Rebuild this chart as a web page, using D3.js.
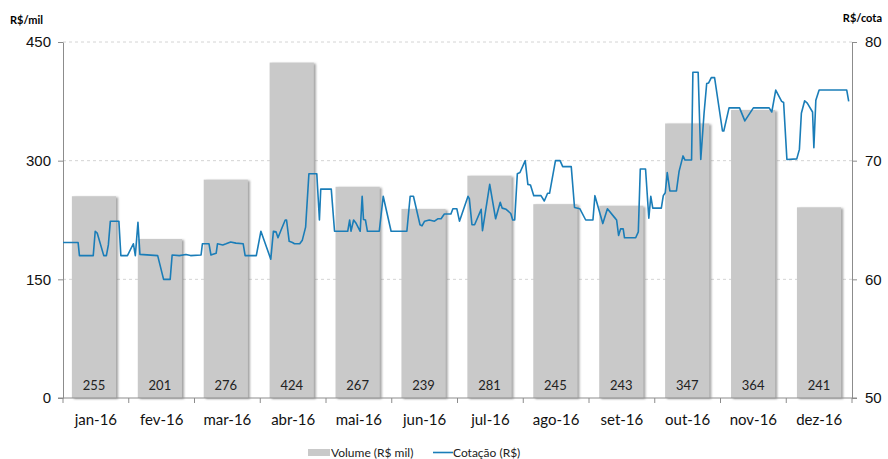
<!DOCTYPE html>
<html>
<head>
<meta charset="utf-8">
<script src="https://cdn.jsdelivr.net/npm/d3@7"></script>
<style>
  body { margin: 0; background: #fff; }
  svg { display: block; font-family: Lato, "Open Sans", sans-serif; }
  .grid line { stroke: #d4d4d4; stroke-dasharray: 3 3; }
  .axis path, .axis line { stroke: #8c8c8c; }
  .axis text { fill: #111; }
</style>
</head>
<body>
<svg id="chart" width="888" height="459"></svg>
<script>
// Months and monthly volume (R$ mil)
var meses = ['jan-16', 'fev-16', 'mar-16', 'abr-16', 'mai-16', 'jun-16',
  'jul-16', 'ago-16', 'set-16', 'out-16', 'nov-16', 'dez-16'];
var volume = [255, 201, 276, 424, 267, 239, 281, 245, 243, 347, 364, 241];

// Daily quote (R$/cota): position in months since jan-16 start, value
var posMes = [0.00, 0.23, 0.25, 0.46, 0.49, 0.52, 0.62, 0.66, 0.69, 0.72, 0.85, 0.88, 0.98,
  1.07, 1.10, 1.14, 1.17, 1.44, 1.53, 1.63, 1.66, 1.77, 1.87, 1.94, 2.10, 2.12, 2.22,
  2.25, 2.27, 2.33, 2.35, 2.43, 2.48, 2.55, 2.63, 2.74, 2.77, 2.94, 3.01, 3.16, 3.20,
  3.24, 3.27, 3.32, 3.38, 3.40, 3.44, 3.49, 3.52, 3.60, 3.64, 3.69, 3.74, 3.86, 3.90,
  3.92, 4.08, 4.13, 4.33, 4.36, 4.38, 4.42, 4.46, 4.52, 4.55, 4.57, 4.60, 4.63, 4.81,
  4.87, 4.99, 5.23, 5.28, 5.33, 5.43, 5.46, 5.50, 5.57, 5.65, 5.70, 5.75, 5.80, 5.90,
  5.93, 5.99, 6.03, 6.16, 6.18, 6.22, 6.26, 6.36, 6.38, 6.49, 6.58, 6.65, 6.68, 6.74,
  6.81, 6.84, 6.87, 6.91, 6.95, 7.03, 7.07, 7.11, 7.16, 7.27, 7.32, 7.37, 7.40, 7.49,
  7.56, 7.60, 7.73, 7.78, 7.86, 7.95, 8.06, 8.09, 8.21, 8.28, 8.39, 8.42, 8.45, 8.48,
  8.52, 8.54, 8.71, 8.75, 8.78, 8.86, 8.91, 8.94, 8.97, 9.10, 9.13, 9.16, 9.19, 9.23,
  9.33, 9.37, 9.43, 9.46, 9.56, 9.58, 9.66, 9.70, 9.75, 9.79, 9.82, 9.86, 9.91, 10.03,
  10.05, 10.13, 10.29, 10.37, 10.50, 10.74, 10.78, 10.84, 10.93, 10.96, 11.01, 11.16,
  11.20, 11.23, 11.28, 11.32, 11.40, 11.42, 11.45, 11.50, 11.92, 11.95];
var cotacao = [63.1, 63.1, 62.0, 62.0, 64.05, 63.9, 62.0, 62.0, 62.9, 64.9, 64.9, 62.0, 62.0,
  63.0, 62.0, 64.8, 62.1, 62.0, 60.0, 60.0, 62.05, 62.0, 62.1, 62.0, 62.05, 63.0, 63.0,
  62.05, 62.1, 62.2, 63.0, 62.9, 63.0, 63.15, 63.05, 63.0, 62.0, 62.0, 64.05, 61.7, 64.05,
  64.0, 63.5, 64.2, 65.0, 65.0, 63.2, 63.1, 63.0, 63.0, 63.3, 64.4, 68.9, 68.9, 65.0,
  67.6, 67.6, 64.05, 64.05, 65.0, 64.05, 65.0, 64.7, 64.05, 67.0, 65.05, 65.0, 64.05, 64.05,
  67.0, 64.05, 64.05, 67.0, 67.0, 64.6, 64.5, 64.9, 65.0, 64.9, 65.1, 65.1, 65.5, 65.5,
  65.95, 65.95, 64.9, 67.0, 66.8, 64.6, 64.6, 65.9, 64.1, 68.0, 65.1, 66.5, 66.0, 65.9,
  65.55, 65.0, 65.0, 68.9, 69.0, 70.0, 68.0, 67.95, 67.05, 67.05, 66.6, 67.25, 67.25, 70.0,
  70.0, 69.5, 69.5, 66.05, 65.95, 65.0, 65.0, 67.05, 64.7, 65.95, 65.2, 65.0, 63.7, 64.25,
  64.25, 63.5, 63.5, 64.0, 69.3, 69.3, 65.15, 67.0, 66.0, 66.0, 67.05, 67.3, 69.0, 67.45,
  67.45, 69.1, 70.4, 70.05, 70.05, 77.45, 77.45, 70.1, 74.0, 76.5, 76.55, 77.0, 77.0, 72.5,
  72.5, 74.45, 74.45, 73.35, 74.45, 74.45, 74.1, 75.95, 75.0, 74.9, 70.1, 70.15,
  70.95, 74.0, 75.05, 74.85, 74.1, 71.1, 75.1, 75.95, 75.95, 75.0];

var volTicks = [0, 150, 300, 450];
var cotTicks = [50, 60, 70, 80];

var svg = d3.select('#chart');
var pLeft = 63, pRight = 852, pTop = 42, pBottom = 398;

var x = d3.scaleBand().domain(meses).range([pLeft, pRight]).paddingInner(0.33).paddingOuter(0.15);
var xt = d3.scaleLinear().domain([0, 12]).range([pLeft, pRight]);
var yL = d3.scaleLinear().domain([0, 450]).range([pBottom, pTop]);
var yR = d3.scaleLinear().domain([50, 80]).range([pBottom, pTop]);

var defs = svg.append('defs');
var f = defs.append('filter').attr('id', 'sh').attr('x', '-10%').attr('y', '-10%').attr('width', '130%').attr('height', '120%');
f.append('feDropShadow').attr('dx', 2).attr('dy', 1).attr('stdDeviation', 1)
  .attr('flood-color', '#7a7a7a').attr('flood-opacity', 0.7);

// gridlines
svg.append('g').attr('class', 'grid').selectAll('line').data(volTicks.slice(1)).join('line')
  .attr('x1', pLeft).attr('x2', pRight).attr('y1', yL).attr('y2', yL);

// bars
svg.append('g').selectAll('rect').data(meses).join('rect')
  .attr('x', function (d) { return x(d) - 1; })
  .attr('y', function (d, i) { return yL(volume[i]); })
  .attr('width', x.bandwidth())
  .attr('height', function (d, i) { return pBottom - yL(volume[i]); })
  .attr('fill', '#c9c9c9').attr('filter', 'url(#sh)');

svg.append('g').selectAll('text').data(meses).join('text')
  .attr('x', function (d) { return x(d) - 1 + x.bandwidth() / 2; })
  .attr('y', 390).attr('text-anchor', 'middle')
  .style('font-size', '13px').attr('fill', '#222')
  .text(function (d, i) { return volume[i]; });

// axes
var axL = svg.append('g').attr('class', 'axis').attr('transform', 'translate(' + pLeft + ',0)')
  .call(d3.axisLeft(yL).tickValues(volTicks).tickSize(5).tickSizeOuter(0).tickPadding(7));
axL.selectAll('text').style('font-size', '15px');
var axR = svg.append('g').attr('class', 'axis').attr('transform', 'translate(' + pRight + ',0)')
  .call(d3.axisRight(yR).tickValues(cotTicks).tickSize(5).tickSizeOuter(0).tickPadding(8));
axR.selectAll('text').style('font-size', '15px');

var axB = svg.append('g').attr('class', 'axis').attr('transform', 'translate(0,' + pBottom + ')');
axB.append('line').attr('x1', pLeft - 5).attr('x2', pRight + 5);
axB.selectAll('.tk').data(d3.range(13)).join('line').attr('class', 'tk')
  .attr('x1', function (d) { return xt(d); }).attr('x2', function (d) { return xt(d); })
  .attr('y1', 0).attr('y2', 5);
axB.selectAll('text').data(meses).join('text')
  .attr('x', function (d, i) { return xt(i + 0.5); }).attr('y', 27)
  .attr('text-anchor', 'middle').style('font-size', '15px').text(function (d) { return d; });

// quote line
var line = d3.line().x(function (d) { return xt(posMes[d]); }).y(function (d) { return yR(cotacao[d]); });
svg.append('path').datum(d3.range(posMes.length)).attr('d', line)
  .attr('fill', 'none').attr('stroke', '#1a7db8').attr('stroke-width', 1.6).attr('stroke-linejoin', 'round');

// axis titles
svg.append('text').attr('x', 10).attr('y', 24).style('font-size', '11px').style('font-weight', 'bold').text('R$/mil');
svg.append('text').attr('x', 882).attr('y', 22).attr('text-anchor', 'end').style('font-size', '11px').style('font-weight', 'bold').text('R$/cota');

// legend
var lg = svg.append('g').style('font-size', '12px').attr('fill', '#222');
lg.append('rect').attr('x', 308).attr('y', 449).attr('width', 22).attr('height', 7).attr('fill', '#c9c9c9');
lg.append('text').attr('x', 331).attr('y', 457).text('Volume (R$ mil)');
lg.append('line').attr('x1', 433).attr('x2', 453).attr('y1', 452.5).attr('y2', 452.5).attr('stroke', '#1a7db8').attr('stroke-width', 1.6);
lg.append('text').attr('x', 453).attr('y', 457).text('Cotação (R$)');
</script>
</body>
</html>
